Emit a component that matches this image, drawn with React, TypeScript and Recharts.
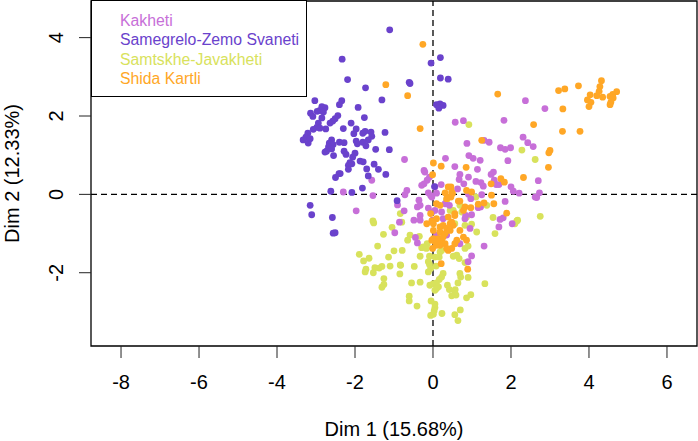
import { ScatterChart, Scatter, XAxis, YAxis, ReferenceLine, ReferenceArea, Label } from 'recharts'

const fontFamily = '"Liberation Sans", Arial, sans-serif'

const regions = ['Kakheti', 'Samegrelo-Zemo Svaneti', 'Samtskhe-Javakheti', 'Shida Kartli']
const regionColors = ['#c76fd8', '#6a42cc', '#d8e25c', '#ffa726']
const xTicks = [-8, -6, -4, -2, 0, 2, 4, 6]
const yTicks = [-2, 0, 2, 4]

const kakheti = [
  [-0.73, 0.89], [0.32, 0.92], [-0.23, 0.61], [2.37, 2.39], [2.87, 2.19], [1.82, 1.89], [0.78, 1.88], [0.57, 1.84],
  [0.87, 1.3], [1.31, 1.38], [1.44, 1.33], [2.31, 1.46], [2.43, 1.32], [2.57, 1.22], [1.73, 1.19], [1.85, 1.15],
  [1.99, 1.19], [1.92, 0.86], [0.92, 0.99], [1.03, 0.92], [1.21, 0.87], [0.56, 0.71], [1.14, 0.64], [1.55, 0.57],
  [1.49, 0.51], [0.69, 0.51], [0.67, 0.38], [0.91, 0.44], [0.79, 0.27], [1.1, 0.33], [1.23, 0.3], [1.29, 0.21],
  [1.57, 0.36], [1.62, 0.25], [1.69, 0.25], [2.7, 0.35], [2.0, 0.19], [2.06, 0.08], [2.21, 0.03], [2.73, 0.04],
  [2.62, -0.07], [2.66, -0.08], [0.63, 0.14], [1.25, -0.01], [0.91, 0], [0.97, -0.11], [1.85, -0.18], [1.16, -0.34],
  [1.22, -0.32], [0.99, -0.52], [0.84, -0.54], [0.82, -0.62], [1.72, -0.64], [1.8, -0.6], [1.69, -0.83], [2.03, -0.75],
  [0.95, -0.87], [0.26, -0.62], [-0.01, -0.66], [0.22, -0.45], [0.31, -0.24], [0.42, -0.28], [0.21, 0.25], [0.05, 0.19],
  [0.09, 0.03], [-0.03, -0.07], [-0.21, 0.57], [-0.09, 0.44], [-0.15, 0.36], [-0.29, 0.23], [-0.23, 0.27], [-0.12, 0.04],
  [-0.06, -0.03], [-0.36, -0.15], [-0.4, -0.32], [-0.33, -0.28], [-0.12, -0.35], [0.05, -0.41], [-0.49, -0.66], [-0.33, -0.54],
  [-0.33, -0.66], [-0.02, -0.45], [0.09, -1.04], [0.35, -1.04], [-0.45, -1.1], [-0.4, -1.24], [0.69, -1.26], [1.31, -1.32],
  [0.99, -1.57], [0.9, -1.72], [-1.57, 0.36], [-2.3, 0.06], [-1.54, -0.03], [-1.97, -0.42], [-0.67, 0.1], [-0.72, -0.01],
  [-0.91, -0.27], [-0.74, -0.42], [-0.86, -0.71], [-0.98, -0.98],
]

const samegrelo = [
  [-1.11, 4.2], [-2.33, 3.45], [-2.19, 2.93], [-1.73, 2.72], [-0.61, 2.86], [-0.59, 2.83], [-0.05, 3.35], [0.19, 3.49],
  [0.19, 2.97], [0.39, 2.94], [-1.31, 2.41], [-3.03, 2.39], [-2.34, 2.39], [-2.4, 2.29], [-1.92, 2.22], [0.09, 2.29],
  [0.18, 2.31], [0.26, 2.27], [0.15, 2.2], [-2.77, 2.21], [-2.85, 2.24], [-2.9, 2.14], [-2.81, 2.1], [-2.97, 2.12],
  [-3.14, 2.07], [-3.08, 1.99], [-2.85, 1.95], [-1.76, 1.96], [-2.44, 2.01], [-2.51, 1.93], [-2.57, 1.87], [-2.64, 1.82],
  [-2.94, 1.82], [-2.98, 1.71], [-2.9, 1.69], [-3.07, 1.66], [-2.75, 1.67], [-2.3, 1.68], [-2.1, 1.82], [-1.97, 1.67],
  [-2.03, 1.55], [-1.74, 1.61], [-1.8, 1.56], [-1.59, 1.59], [-1.57, 1.48], [-1.66, 1.39], [-1.23, 1.58], [-3.21, 1.56],
  [-3.26, 1.46], [-3.33, 1.39], [-3.2, 1.31], [-3.15, 1.42], [-2.6, 1.39], [-2.66, 1.31], [-2.56, 1.27], [-2.68, 1.21],
  [-2.6, 1.16], [-2.73, 1.1], [-2.77, 1.08], [-2.4, 1.33], [-2.28, 1.32], [-1.97, 1.36], [-1.94, 1.29], [-1.8, 1.33],
  [-1.72, 1.24], [-1.47, 1.15], [-1.12, 1.14], [-2.28, 1.1], [-2.23, 1.02], [-2.55, 0.99], [-2.0, 1.05], [-2.06, 0.95],
  [-1.87, 0.85], [-1.79, 0.83], [-2.13, 0.81], [-2.17, 0.74], [-2.08, 0.78], [-1.51, 0.77], [-1.7, 0.65], [-1.4, 0.64],
  [-2.17, 0.64], [-2.38, 0.53], [-1.66, 0.47], [-1.21, 0.51], [-1.81, 0.16], [-2.08, 0.05], [-0.92, -0.16], [0.04, 0.2],
  [-2.41, 0.53], [-2.5, 0.43], [-2.62, 0.08], [-3.15, -0.28], [-3.11, -0.52], [-2.58, -0.59], [-2.56, -0.99], [-2.51, -0.98],
]

const samtskhe = [
  [-0.84, -0.49], [-0.8, -0.71], [-1.54, -0.68], [-1.52, -0.73], [-1.05, -0.84], [-1.27, -1.02], [-1.42, -1.32], [-1.89, -1.53],
  [-1.64, -1.63], [-1.78, -1.7], [-1.0, -1.44], [-0.79, -1.43], [-1.14, -1.6], [-0.65, -1.17], [-0.59, -1.04], [-0.83, -1.81],
  [-1.1, -1.83], [-1.31, -1.84], [-1.38, -1.88], [-1.49, -1.87], [-1.53, -2.0], [-1.72, -1.91], [-1.74, -1.98], [-0.85, -2.03],
  [-1.26, -2.15], [-1.26, -2.3], [-1.31, -2.37], [-0.35, -1.07], [-0.33, -1.58], [-0.29, -1.36], [-0.18, -1.34], [-0.15, -1.26],
  [0.18, -1.47], [0.22, -1.43], [-0.09, -1.58], [0.05, -1.6], [0.16, -1.6], [0.52, -1.58], [0.61, -1.55], [0.67, -1.64],
  [0.82, -1.74], [-0.12, -1.72], [-0.09, -1.79], [0.08, -1.83], [-0.48, -1.84], [-0.84, -1.8], [-0.12, -1.98], [-0.06, -1.89],
  [0.26, -2.02], [0.22, -2.11], [0.16, -2.17], [0.69, -2.02], [0.71, -2.11], [0.9, -2.12], [1.33, -2.28], [1.59, -1.0],
  [1.12, -0.96], [-0.55, -2.26], [-0.33, -2.24], [-0.08, -2.32], [0.01, -2.28], [0.09, -2.26], [0.14, -2.36], [0.05, -2.45],
  [0.09, -2.4], [0.37, -2.32], [0.42, -2.43], [0.64, -2.26], [0.57, -2.43], [0.56, -2.53], [0.48, -2.59], [0.59, -2.57],
  [0.97, -2.56], [0.86, -2.64], [-0.61, -2.6], [-0.61, -2.72], [-0.41, -2.85], [-0.05, -2.72], [0.05, -2.8], [0.05, -2.89],
  [0.03, -2.97], [-0.06, -3.09], [0.01, -3.06], [0.23, -3.04], [0.7, -2.95], [0.56, -3.07], [0.64, -3.22], [0.92, 1.78],
  [2.28, 1.13], [2.62, 0.89], [1.38, -0.28], [1.54, -0.59], [2.17, -0.66], [2.75, -0.56], [1.1, -0.07], [2.15, -0.68],
  [2.1, -0.75], [0.82, -0.79], [0.99, -0.76], [0.56, -0.75], [0.35, -0.15], [0.44, -0.41], [0.69, -0.28], [0.74, -0.45],
  [0.86, -0.58], [-0.25, -1.34], [-0.17, -1.38], [0.82, -1.38], [0.9, -1.32], [0.52, -0.41],
]

const shidaKartli = [
  [-0.26, 3.83], [-1.21, 2.8], [-0.65, 2.52], [-0.33, 1.68], [0.01, 0.8], [0.21, 0.72], [1.66, 2.56], [3.22, 2.65],
  [3.38, 2.69], [3.73, 2.77], [4.32, 2.9], [4.28, 2.75], [4.26, 2.63], [4.03, 2.54], [4.2, 2.52], [4.35, 2.48],
  [3.96, 2.41], [4.05, 2.35], [4.0, 2.24], [4.71, 2.62], [4.61, 2.55], [4.54, 2.5], [4.62, 2.46], [4.56, 2.35],
  [4.54, 2.29], [3.33, 2.18], [2.58, 1.78], [3.32, 1.61], [3.77, 1.61], [1.25, 1.38], [3.0, 1.12], [2.97, 1.06],
  [2.96, 0.69], [2.32, 0.43], [0.85, 0.69], [1.74, 0.4], [1.83, 0.31], [1.49, 0.27], [1.5, -0.02], [1.56, -0.24],
  [0.86, 0.1], [0.99, 0.06], [0.46, 0.19], [0.5, 0.02], [0.46, -0.07], [0.69, -0.17], [1.16, -0.25], [1.31, -0.22],
  [0.82, -0.32], [0.97, -0.34], [0.78, -0.41], [1.89, -0.48], [0.56, -0.49], [-0.01, 0.5], [0.39, 0.19], [0.48, 0.06],
  [0.31, 0.04], [0.39, -0.07], [0.35, -0.11], [0.09, -0.24], [0.18, -0.28], [0.56, -0.54], [0.65, -0.17], [-0.16, -0.75],
  [-0.03, -0.68], [0.09, -0.62], [0.18, -0.83], [0.26, -0.79], [0.35, -0.87], [0.44, -0.75], [0.52, -0.79], [0.18, -0.96],
  [0.31, -1.0], [0.01, -1.13], [0.14, -1.13], [-0.06, -0.49], [0.39, -0.58], [0.48, -0.71], [0.01, -0.75], [0.01, -0.92],
  [0.44, -0.92], [0.69, -0.92], [0.78, -1.09], [0.86, -1.17], [-0.03, -1.17], [0.05, -1.21], [0.22, -1.17], [0.31, -1.26],
  [0.18, -1.3], [0.09, -1.3], [0.26, -1.09], [0.39, -1.43], [0.48, -1.38], [0.61, -1.17], [0.56, -1.26], [0.21, -1.77],
  [0.89, -1.91], [0.35, -1.38], [-0.01, -1.38], [0.11, -1.2],
]

const seriesValues = [samtskhe, kakheti, samegrelo, shidaKartli]
const seriesOrder = [2, 0, 1, 3]

const toRows = (points: number[][]) => points.map(([x, y]) => ({ x, y }))

const dot = (color: string) => (props: any) => <circle cx={props.cx} cy={props.cy} r={3.4} fill={color} />

const RotatedTick = ({ x, y, payload }: any) => (
  <text x={x} y={y} transform={`rotate(-90 ${x} ${y})`} textAnchor="middle" fontSize={20} fontFamily={fontFamily} fill="#000">
    {payload.value}
  </text>
)

export default function App() {
  return (
    <div style={{ position: 'absolute', left: 0, top: 0, width: 698, height: 441, background: '#fff' }}>
      <ScatterChart width={698} height={441} margin={{ top: 1, right: 1, bottom: 0, left: 0 }}>
        <XAxis
          type="number"
          dataKey="x"
          domain={[-8.77, 6.77]}
          ticks={xTicks}
          height={95}
          tickSize={12}
          tickMargin={17}
          axisLine={false}
          tick={{ fontSize: 20, fontFamily, fill: '#000' }}
          tickLine={{ stroke: '#222' }}
        >
          <Label value="Dim 1 (15.68%)" position="insideBottom" offset={5} fontSize={20} fontFamily={fontFamily} fill="#000" />
        </XAxis>
        <YAxis
          type="number"
          dataKey="y"
          domain={[-3.87, 4.935]}
          ticks={yTicks}
          width={91}
          tickSize={12}
          tickMargin={16}
          axisLine={false}
          tick={<RotatedTick />}
          tickLine={{ stroke: '#222' }}
        >
          <Label value="Dim 2 (12.33%)" angle={-90} position="insideLeft" offset={12} fontSize={20} fontFamily={fontFamily} fill="#000" style={{ textAnchor: 'middle' }} />
        </YAxis>
        <ReferenceArea x1={-8.77} x2={6.77} y1={-3.87} y2={4.935} fill="none" stroke="#000" strokeWidth={1.3} ifOverflow="visible" />
        <ReferenceLine x={0} stroke="#000" strokeDasharray="6 4" strokeWidth={1.3} />
        <ReferenceLine y={0} stroke="#000" strokeDasharray="6 4" strokeWidth={1.3} />
        {seriesValues.map((points, i) => (
          <Scatter
            key={regions[seriesOrder[i]]}
            name={regions[seriesOrder[i]]}
            data={toRows(points)}
            shape={dot(regionColors[seriesOrder[i]])}
            isAnimationActive={false}
          />
        ))}
      </ScatterChart>
      <div
        style={{
          position: 'absolute',
          left: 91,
          top: 0,
          width: 216,
          height: 97,
          border: '1.3px solid #000',
          background: '#fff',
          paddingTop: 10,
          paddingLeft: 28,
          boxSizing: 'border-box',
          fontFamily,
          fontSize: 15.8,
          lineHeight: '19.3px',
        }}
      >
        {regions.map((name, i) => (
          <div key={name} style={{ color: regionColors[i] }}>{name}</div>
        ))}
      </div>
    </div>
  )
}
